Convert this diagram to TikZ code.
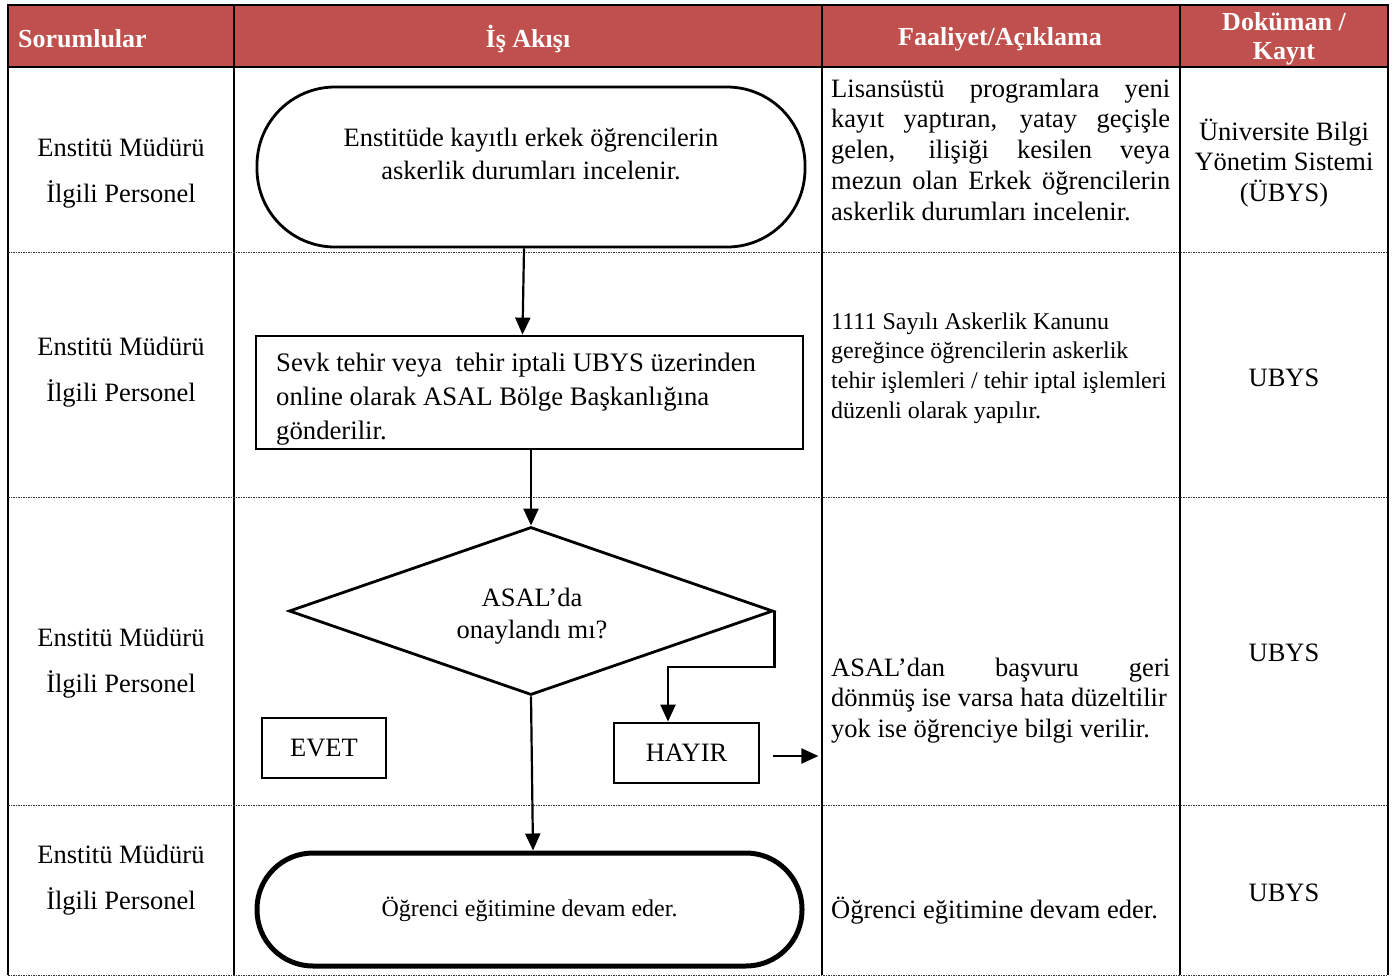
\documentclass[tikz,border=0pt]{standalone}
\usepackage{fontspec}
\setmainfont{Liberation Serif}
\usetikzlibrary{shapes.geometric,arrows.meta}
\definecolor{hdr}{HTML}{C0504D}
\begin{document}
\begin{tikzpicture}[x=1pt,y=-1pt,
  frame/.style={line width=2.2pt},
  rowsep/.style={line width=1pt, dash pattern=on 1.5pt off 1pt, black!80},
  hdrtxt/.style={text=white, font=\fontsize{26}{29}\selectfont\bfseries, inner sep=0},
  txt/.style={inner sep=0, font=\fontsize{26.5}{30.75}\selectfont},
  small/.style={inner sep=0, font=\fontsize{24}{29.7}\selectfont},
  resp/.style={inner sep=0, align=center, font=\fontsize{26.5}{46}\selectfont},
  doc/.style={inner sep=0, align=center, font=\fontsize{26.5}{30.5}\selectfont},
  shapeline/.style={draw, line width=2.8pt, inner sep=0},
  arr/.style={line width=2.2pt, -{Triangle[length=17pt,width=15pt]}},
]
\useasboundingbox (0,0) rectangle (1395,978);
% header
\fill[hdr] (8,5) rectangle (1388,67);
\draw[frame] (8,975) -- (8,5) -- (1388,5) -- (1388,975);
\draw[frame] (8,67) -- (1388,67);
\foreach \x in {234,822,1180} \draw[frame] (\x,5) -- (\x,975);
\foreach \y in {252,497,805,975} \draw[rowsep] (8,\y) -- (1388,\y);

\node[hdrtxt, anchor=west] (h1) at (18,39) {Sorumlular};
\node[hdrtxt] (h2) at (528,39) {İş Akışı};
\node[hdrtxt] (h3) at (1000,39) {Faaliyet/Açıklama};
\node[hdrtxt, align=center] (h4) at (1284,39) {Doküman /\\Kayıt};

% responsibles
\node[resp] (r1) at (121,173) {Enstitü Müdürü\\İlgili Personel};
\node[resp] (r2) at (121,372) {Enstitü Müdürü\\İlgili Personel};
\node[resp] (r3) at (121,663) {Enstitü Müdürü\\İlgili Personel};
\node[resp] (r4) at (121,880.5) {Enstitü Müdürü\\İlgili Personel};

% flow
\node[shapeline, rounded corners=78pt, minimum width=548pt, minimum height=160pt] (t1) at (531,167) {};
\node[inner sep=0, align=center, font=\fontsize{26.5}{33}\selectfont] (t1t) at (531,154) {Enstitüde kayıtlı erkek öğrencilerin\\askerlik durumları incelenir.};

\node[shapeline, minimum width=547pt, minimum height=113pt] (b2) at (529.5,392.5) {};
\node[inner sep=0, anchor=west, align=left, font=\fontsize{26.7}{34}\selectfont] (b2t) at (276,399) {Sevk tehir veya\ \ tehir iptali UBYS üzerinden\\online olarak ASAL Bölge Başkanlığına\\gönderilir.};

\node[shapeline, diamond, minimum width=484pt, minimum height=168pt] (d) at (531,611) {};
\node[inner sep=0, align=center, font=\fontsize{26.5}{32}\selectfont] (dt) at (532,616) {ASAL’da\\onaylandı mı?};

\node[shapeline, minimum width=124pt, minimum height=60pt, font=\fontsize{26.5}{30}\selectfont] (ev) at (324,748) {EVET};
\node[shapeline, minimum width=145pt, minimum height=60pt, font=\fontsize{26.5}{30}\selectfont] (hay) at (686.5,753) {HAYIR};

\node[draw, line width=5pt, inner sep=0, rounded corners=56pt, minimum width=545pt, minimum height=113pt, font=\fontsize{24}{28}\selectfont] (t2) at (529.5,909.5) {Öğrenci eğitimine devam eder.};

\draw[arr] ([xshift=-7pt]t1.south) -- ([xshift=-7pt]b2.north);
\draw[arr] ([xshift=1.5pt]b2.south) -- (d.north);
\draw[arr] (d.south) -- ([xshift=3.5pt]t2.north);
\draw[arr] (d.east) -- ++(0,56) -| ([xshift=-18.5pt]hay.north);
\draw[arr] ([shift={(13,3)}]hay.east) -- ++(45,0);

% Faaliyet
\node[txt, anchor=west, align=left] (f1) at (831,149.5) {\makebox[339pt][s]{Lisansüstü programlara yeni}\\\makebox[339pt][s]{kayıt yaptıran, yatay geçişle}\\\makebox[339pt][s]{gelen, ilişiği kesilen veya}\\\makebox[339pt][s]{mezun olan Erkek öğrencilerin}\\askerlik durumları incelenir.};
\node[small, anchor=west, align=left] (f2) at (831,368) {1111 Sayılı Askerlik Kanunu\\gereğince öğrencilerin askerlik\\tehir işlemleri / tehir iptal işlemleri\\düzenli olarak yapılır.};
\node[txt, anchor=west, align=left] (f3) at (831,700.5) {\makebox[339pt][s]{ASAL’dan başvuru geri}\\dönmüş ise varsa hata düzeltilir\\yok ise öğrenciye bilgi verilir.};
\node[txt, anchor=west] (f4) at (831,911) {Öğrenci eğitimine devam eder.};

% documents
\node[doc] (k1) at (1284,163) {Üniversite Bilgi\\Yönetim Sistemi\\(ÜBYS)};
\node[doc] (k2) at (1284,378) {UBYS};
\node[doc] (k3) at (1284,653) {UBYS};
\node[doc] (k4) at (1284,893) {UBYS};
\end{tikzpicture}
\end{document}
